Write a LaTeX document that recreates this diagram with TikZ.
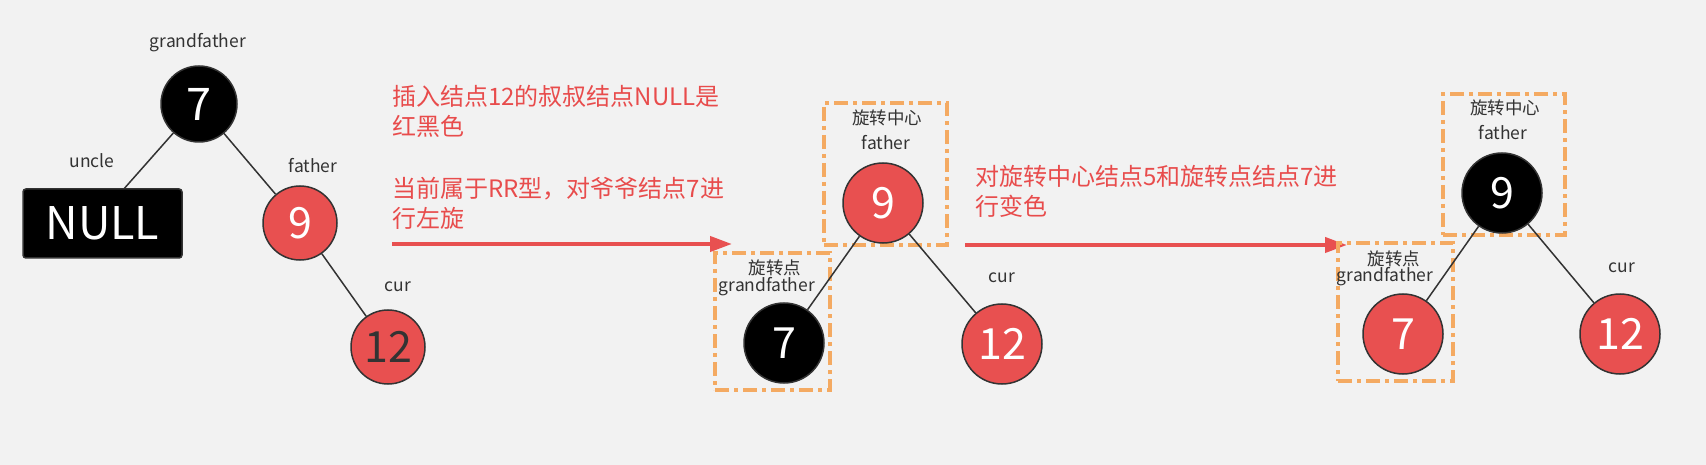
\documentclass[tikz,border=0pt]{standalone}
\usepackage{fontspec}
\setmainfont{Noto Sans CJK SC}
\usetikzlibrary{arrows.meta}
\definecolor{bg}{HTML}{F2F2F2}
\definecolor{rd}{HTML}{E85050}
\definecolor{rdtxt}{HTML}{E84C4C}
\definecolor{org}{HTML}{F4AA62}
\definecolor{dk}{HTML}{333333}
\begin{document}
\begin{tikzpicture}[x=1pt,y=-1pt,
  nodebase/.style={circle,draw=dk,line width=1.5pt,text=white,inner sep=0pt,font=\fontsize{43}{43}\selectfont},
  blacknode/.style={nodebase,fill=black},
  rednode/.style={nodebase,fill=rd},
  lbl/.style={text=dk,font=\fontsize{17.5}{19}\selectfont,inner sep=0pt},
  treeedge/.style={draw=dk,line width=1.5pt},
  rotbox/.style={draw=org,line width=3.5pt,dash pattern=on 14pt off 5pt on 4pt off 5pt,inner sep=0pt},
  note/.style={text=rdtxt,font=\fontsize{24}{30}\selectfont,align=left,anchor=base west,inner sep=0pt},
  bigarrow/.style={draw=rd,line width=4pt,-{Triangle[length=22pt,width=15pt]}}
]
\useasboundingbox[fill=bg] (0,0) rectangle (1706,465);

% ---------- tree 1 ----------
\node[blacknode,minimum size=76pt,font=\fontsize{45}{45}\selectfont] (a7) at (199,104) {7};
\node[rednode,minimum size=74pt] (a9) at (300,223) {9};
\node[rednode,minimum size=74pt,text=dk] (a12) at (388,347) {12};
\node[fill=black,draw=dk,line width=1.5pt,rounded corners=3pt,minimum width=159pt,minimum height=69pt,inner sep=0pt,text=white,font=\fontsize{45}{45}\selectfont] (null) at (102.5,223.5) {NULL};
\draw[treeedge] (a7) -- ([xshift=22pt]null.north);
\draw[treeedge] (a7) -- (a9);
\draw[treeedge] (a9) -- (a12);
\node[lbl] (la1) at (198,43) {grandfather};
\node[lbl] (la2) at (92,161) {uncle};
\node[lbl] (la3) at (313,166) {father};
\node[lbl] (la4) at (398,287) {cur};

% ---------- note 1 + arrow ----------
\node[note] (t1) at (392,228) {插入结点12的叔叔结点NULL是\\红黑色\\[32pt]当前属于RR型，对爷爷结点7进\\行左旋};
\coordinate (a1s) at (392,244);
\coordinate (a1e) at (732,244);
\draw[bigarrow] (a1s) -- (a1e);

% ---------- tree 2 ----------
\node[rotbox,minimum width=123pt,minimum height=142pt] (b1) at (885.5,174) {};
\node[rotbox,minimum width=115pt,minimum height=137pt] (b2) at (772.5,321.5) {};
\node[rednode,minimum size=80pt] (m9) at (883,203) {9};
\node[blacknode,minimum size=80pt] (m7) at (784,343) {7};
\node[rednode,minimum size=80pt] (m12) at (1002,344) {12};
\draw[treeedge] (m9) -- (m7);
\draw[treeedge] (m9) -- (m12);
\node[lbl] (lb1) at (887,118) {旋转中心};
\node[lbl] (lb2) at (886,143) {father};
\node[lbl] (lb3) at (775,268) {旋转点};
\node[lbl] (lb4) at (767,287) {grandfather};
\node[lbl] (lb5) at (1002,278) {cur};

% ---------- note 2 + arrow ----------
\node[note] (t2) at (975,216) {对旋转中心结点5和旋转点结点7进\\行变色};
\coordinate (a2s) at (965,245);
\coordinate (a2e) at (1347,245);
\draw[bigarrow] (a2s) -- (a2e);

% ---------- tree 3 ----------
\node[rotbox,minimum width=122pt,minimum height=141pt] (c1) at (1504,164.5) {};
\node[rotbox,minimum width=115pt,minimum height=138pt] (c2) at (1395.5,312) {};
\node[blacknode,minimum size=80pt] (n9) at (1502,193) {9};
\node[rednode,minimum size=80pt] (n7) at (1403,334) {7};
\node[rednode,minimum size=80pt] (n12) at (1620,334) {12};
\draw[treeedge] (n9) -- (n7);
\draw[treeedge] (n9) -- (n12);
\node[lbl] (lc1) at (1505,108) {旋转中心};
\node[lbl] (lc2) at (1503,133) {father};
\node[lbl] (lc3) at (1394,259) {旋转点};
\node[lbl] (lc4) at (1385,277) {grandfather};
\node[lbl] (lc5) at (1622,268) {cur};
\end{tikzpicture}
\end{document}
